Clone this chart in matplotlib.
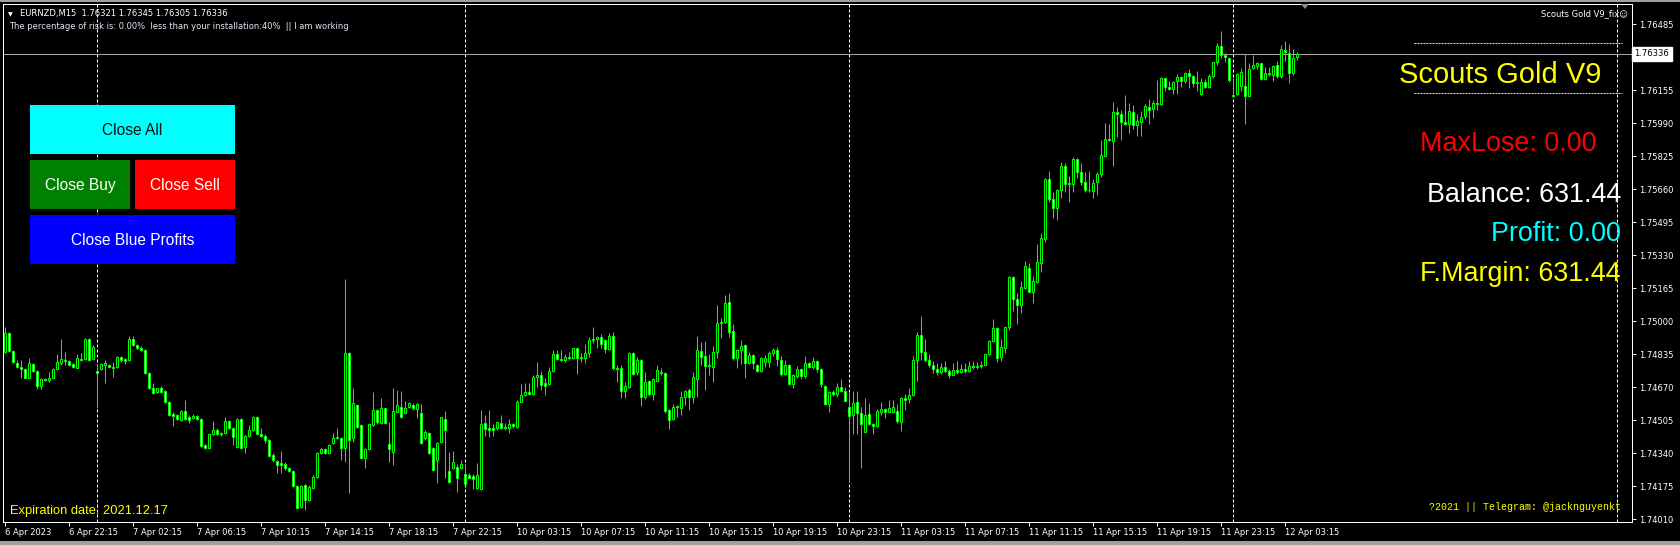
import matplotlib
matplotlib.use("Agg")
import matplotlib.pyplot as plt
import matplotlib.transforms as mtransforms
from matplotlib.patches import Rectangle, Polygon
from matplotlib.lines import Line2D

plt.rcParams['lines.scale_dashes'] = False

# ---------------- data (EURNZD M15 candles) ----------------
OPEN = [
    1.74848, 1.74939, 1.74851, 1.74789, 1.74773, 1.74759, 1.74718, 1.74784, 1.74751, 1.74678,
    1.74711, 1.74706, 1.74718, 1.74759, 1.74789, 1.74806, 1.74801, 1.74784, 1.74768, 1.74811,
    1.74811, 1.74911, 1.74811, 1.74751, 1.74761, 1.74781, 1.74781, 1.74773, 1.74773, 1.74823,
    1.74809, 1.74806, 1.74911, 1.74881, 1.74868, 1.74856, 1.74743, 1.74664, 1.74644, 1.74664,
    1.74651, 1.74598, 1.74534, 1.74531, 1.74506, 1.74551, 1.74523, 1.74514, 1.74526, 1.74511,
    1.74381, 1.74364, 1.74434, 1.74456, 1.74443, 1.74439, 1.74501, 1.74464, 1.74373, 1.74509,
    1.74373, 1.74426, 1.74456, 1.74521, 1.74434, 1.74428, 1.74406, 1.74331, 1.74301, 1.74289,
    1.74284, 1.74264, 1.74251, 1.74178, 1.74073, 1.74181, 1.74106, 1.74168, 1.74221, 1.74339,
    1.74361, 1.74339, 1.74389, 1.74414, 1.74418, 1.74364, 1.74839, 1.74414, 1.74581, 1.74481,
    1.74318, 1.74361, 1.74481, 1.74556, 1.74489, 1.74564, 1.74384, 1.74348, 1.74548, 1.74573,
    1.74539, 1.74573, 1.74581, 1.74561, 1.74539, 1.74414, 1.74439, 1.74364, 1.74306, 1.74398,
    1.74511, 1.74251, 1.74264, 1.74273, 1.74264, 1.74234, 1.74231, 1.74228, 1.74168, 1.74161,
    1.74489, 1.74464, 1.74464, 1.74464, 1.74489, 1.74473, 1.74468, 1.74486, 1.74473, 1.74598,
    1.74631, 1.74648, 1.74634, 1.74723, 1.74731, 1.74689, 1.74684, 1.74751, 1.74834, 1.74811,
    1.74806, 1.74823, 1.74818, 1.74864, 1.74814, 1.74814, 1.74839, 1.74906, 1.74909, 1.74921,
    1.74906, 1.74861, 1.74926, 1.74768, 1.74764, 1.74653, 1.74671, 1.74839, 1.74744, 1.74804,
    1.74623, 1.74701, 1.74634, 1.74701, 1.74748, 1.74739, 1.74556, 1.74509, 1.74571, 1.74568,
    1.74619, 1.74656, 1.74619, 1.74709, 1.74849, 1.74826, 1.74778, 1.74773, 1.74844, 1.74989,
    1.74994, 1.75094, 1.74951, 1.74814, 1.74856, 1.74879, 1.74789, 1.74831, 1.74781, 1.74751,
    1.74794, 1.74794, 1.74839, 1.74856, 1.74806, 1.74738, 1.74781, 1.74684, 1.74728, 1.74759,
    1.74728, 1.74789, 1.74773, 1.74799, 1.74759, 1.74676, 1.74584, 1.74644, 1.74634, 1.74669,
    1.74653, 1.74573, 1.74531, 1.74594, 1.74539, 1.74448, 1.74534, 1.74484, 1.74478, 1.74548,
    1.74561, 1.74548, 1.74548, 1.74551, 1.74498, 1.74614, 1.74609, 1.74631, 1.74806, 1.74931,
    1.74848, 1.74806, 1.74781, 1.74760, 1.74745, 1.74770, 1.74750, 1.74730, 1.74755, 1.74745,
    1.74760, 1.74750, 1.74775, 1.74770, 1.74775, 1.74781, 1.74834, 1.74901, 1.74964, 1.74823,
    1.74864, 1.74969, 1.75223, 1.75111, 1.75081, 1.75164, 1.75268, 1.75148, 1.75198, 1.75289,
    1.75411, 1.75709, 1.75611, 1.75568, 1.75658, 1.75774, 1.75684, 1.75686, 1.75811, 1.75744,
    1.75694, 1.75654, 1.75653, 1.75694, 1.75734, 1.75828, 1.75909, 1.75903, 1.76044, 1.76034,
    1.75998, 1.75988, 1.76044, 1.75981, 1.75998, 1.76028, 1.76073, 1.76059, 1.76089, 1.76084,
    1.76214, 1.76173, 1.76159, 1.76201, 1.76223, 1.76201, 1.76243, 1.76228, 1.76189, 1.76134,
    1.76194, 1.76173, 1.76228, 1.76294, 1.76376, 1.76331, 1.76314, 1.76131, 1.76134, 1.76178,
    1.76176, 1.76128, 1.76264, 1.76278, 1.76289, 1.76209, 1.76243, 1.76231, 1.76281, 1.76228,
    1.76356, 1.76343, 1.76243, 1.76321,
]
HIGH = [
    1.74973, 1.74948, 1.74856, 1.74806, 1.74806, 1.74764, 1.74814, 1.74789, 1.74756, 1.74718,
    1.74718, 1.74744, 1.74764, 1.74834, 1.74911, 1.74844, 1.74806, 1.74789, 1.74834, 1.74839,
    1.74914, 1.74918, 1.74881, 1.74784, 1.74789, 1.74806, 1.74784, 1.74798, 1.74828, 1.74828,
    1.74814, 1.74926, 1.74926, 1.74884, 1.74876, 1.74859, 1.74744, 1.74689, 1.74668, 1.74678,
    1.74654, 1.74601, 1.74548, 1.74534, 1.74554, 1.74606, 1.74531, 1.74534, 1.74531, 1.74514,
    1.74384, 1.74439, 1.74501, 1.74464, 1.74448, 1.74523, 1.74506, 1.74468, 1.74514, 1.74514,
    1.74431, 1.74481, 1.74528, 1.74526, 1.74464, 1.74434, 1.74411, 1.74339, 1.74306, 1.74351,
    1.74298, 1.74273, 1.74256, 1.74181, 1.74181, 1.74184, 1.74181, 1.74231, 1.74348, 1.74368,
    1.74368, 1.74384, 1.74439, 1.74464, 1.74423, 1.75211, 1.74844, 1.74668, 1.74584, 1.74484,
    1.74364, 1.74489, 1.74644, 1.74561, 1.74614, 1.74568, 1.74498, 1.74664, 1.74656, 1.74651,
    1.74601, 1.74598, 1.74589, 1.74589, 1.74584, 1.74456, 1.74444, 1.74373, 1.74398, 1.74523,
    1.74551, 1.74348, 1.74351, 1.74284, 1.74306, 1.74284, 1.74239, 1.74234, 1.74289, 1.74556,
    1.74531, 1.74556, 1.74484, 1.74498, 1.74531, 1.74489, 1.74511, 1.74489, 1.74606, 1.74684,
    1.74689, 1.74689, 1.74731, 1.74798, 1.74751, 1.74714, 1.74773, 1.74856, 1.74856, 1.74856,
    1.74834, 1.74844, 1.74868, 1.74868, 1.74839, 1.74884, 1.74923, 1.74973, 1.74926, 1.74934,
    1.74911, 1.74939, 1.74944, 1.74781, 1.74781, 1.74694, 1.74844, 1.74848, 1.74823, 1.74811,
    1.74748, 1.74706, 1.74714, 1.74781, 1.74768, 1.74744, 1.74561, 1.74584, 1.74581, 1.74651,
    1.74656, 1.74668, 1.74744, 1.74926, 1.74894, 1.74901, 1.74836, 1.74876, 1.75081, 1.75018,
    1.75131, 1.75139, 1.74984, 1.74861, 1.74906, 1.74884, 1.74844, 1.74836, 1.74784, 1.74823,
    1.74831, 1.74851, 1.74868, 1.74873, 1.74826, 1.74806, 1.74784, 1.74734, 1.74778, 1.74768,
    1.74826, 1.74794, 1.74823, 1.74804, 1.74764, 1.74681, 1.74651, 1.74656, 1.74689, 1.74711,
    1.74669, 1.74648, 1.74651, 1.74651, 1.74573, 1.74614, 1.74589, 1.74489, 1.74559, 1.74594,
    1.74568, 1.74604, 1.74604, 1.74584, 1.74623, 1.74634, 1.74668, 1.74826, 1.74948, 1.75026,
    1.74911, 1.74836, 1.74800, 1.74790, 1.74790, 1.74800, 1.74760, 1.74790, 1.74800, 1.74785,
    1.74790, 1.74800, 1.74800, 1.74795, 1.74800, 1.74839, 1.74906, 1.75011, 1.74973, 1.74911,
    1.74973, 1.75228, 1.75228, 1.75139, 1.75201, 1.75301, 1.75289, 1.75228, 1.75384, 1.75439,
    1.75714, 1.75751, 1.75644, 1.75659, 1.75798, 1.75789, 1.75726, 1.75821, 1.75814, 1.75789,
    1.75744, 1.75751, 1.75711, 1.75748, 1.75906, 1.75989, 1.75986, 1.76094, 1.76069, 1.76056,
    1.76131, 1.76089, 1.76081, 1.76034, 1.76051, 1.76084, 1.76111, 1.76106, 1.76206, 1.76223,
    1.76218, 1.76201, 1.76201, 1.76234, 1.76228, 1.76248, 1.76261, 1.76231, 1.76251, 1.76214,
    1.76211, 1.76234, 1.76298, 1.76389, 1.76451, 1.76339, 1.76318, 1.76218, 1.76239, 1.76268,
    1.76334, 1.76293, 1.76331, 1.76298, 1.76293, 1.76273, 1.76273, 1.76281, 1.76301, 1.76381,
    1.76401, 1.76386, 1.76361, 1.76345,
]
LOW = [
    1.74839, 1.74848, 1.74789, 1.74768, 1.74714, 1.74714, 1.74714, 1.74748, 1.74661, 1.74661,
    1.74701, 1.74694, 1.74714, 1.74756, 1.74781, 1.74781, 1.74776, 1.74768, 1.74764, 1.74801,
    1.74806, 1.74801, 1.74806, 1.74564, 1.74756, 1.74689, 1.74768, 1.74723, 1.74768, 1.74798,
    1.74784, 1.74801, 1.74876, 1.74859, 1.74851, 1.74736, 1.74661, 1.74634, 1.74641, 1.74639,
    1.74591, 1.74528, 1.74478, 1.74504, 1.74501, 1.74508, 1.74489, 1.74511, 1.74508, 1.74373,
    1.74359, 1.74359, 1.74431, 1.74431, 1.74428, 1.74434, 1.74459, 1.74381, 1.74368, 1.74361,
    1.74339, 1.74423, 1.74451, 1.74431, 1.74423, 1.74389, 1.74324, 1.74298, 1.74239, 1.74239,
    1.74256, 1.74244, 1.74173, 1.74064, 1.74068, 1.74056, 1.74101, 1.74164, 1.74214, 1.74334,
    1.74334, 1.74334, 1.74384, 1.74411, 1.74306, 1.74298, 1.74139, 1.74398, 1.74468, 1.74314,
    1.74268, 1.74356, 1.74478, 1.74484, 1.74484, 1.74484, 1.74298, 1.74281, 1.74544, 1.74518,
    1.74534, 1.74568, 1.74556, 1.74514, 1.74384, 1.74406, 1.74334, 1.74251, 1.74189, 1.74389,
    1.74214, 1.74189, 1.74261, 1.74144, 1.74261, 1.74181, 1.74214, 1.74161, 1.74161, 1.74156,
    1.74428, 1.74423, 1.74428, 1.74456, 1.74461, 1.74456, 1.74439, 1.74468, 1.74468, 1.74594,
    1.74628, 1.74631, 1.74631, 1.74673, 1.74656, 1.74631, 1.74681, 1.74748, 1.74806, 1.74801,
    1.74794, 1.74806, 1.74814, 1.74738, 1.74798, 1.74789, 1.74823, 1.74889, 1.74868, 1.74864,
    1.74839, 1.74856, 1.74756, 1.74698, 1.74618, 1.74614, 1.74668, 1.74731, 1.74731, 1.74578,
    1.74611, 1.74628, 1.74604, 1.74698, 1.74731, 1.74539, 1.74461, 1.74506, 1.74523, 1.74531,
    1.74581, 1.74556, 1.74593, 1.74623, 1.74781, 1.74656, 1.74731, 1.74694, 1.74818, 1.74918,
    1.74989, 1.74923, 1.74806, 1.74768, 1.74784, 1.74718, 1.74784, 1.74761, 1.74748, 1.74748,
    1.74771, 1.74773, 1.74828, 1.74778, 1.74728, 1.74731, 1.74681, 1.74664, 1.74714, 1.74711,
    1.74714, 1.74764, 1.74761, 1.74744, 1.74671, 1.74581, 1.74548, 1.74628, 1.74623, 1.74648,
    1.74601, 1.74198, 1.74434, 1.74434, 1.74268, 1.74444, 1.74481, 1.74434, 1.74473, 1.74531,
    1.74518, 1.74544, 1.74544, 1.74489, 1.74451, 1.74556, 1.74589, 1.74628, 1.74701, 1.74806,
    1.74798, 1.74770, 1.74740, 1.74730, 1.74735, 1.74740, 1.74715, 1.74725, 1.74735, 1.74740,
    1.74740, 1.74745, 1.74760, 1.74760, 1.74765, 1.74775, 1.74831, 1.74898, 1.74798, 1.74801,
    1.74839, 1.74956, 1.75051, 1.74988, 1.75039, 1.75161, 1.75144, 1.75093, 1.75189, 1.75244,
    1.75398, 1.75598, 1.75518, 1.75506, 1.75614, 1.75644, 1.75598, 1.75648, 1.75714, 1.75681,
    1.75644, 1.75648, 1.75618, 1.75631, 1.75723, 1.75824, 1.75903, 1.75778, 1.75923, 1.75906,
    1.75981, 1.75943, 1.75961, 1.75928, 1.75928, 1.76011, 1.75986, 1.76018, 1.76056, 1.76081,
    1.76153, 1.76156, 1.76138, 1.76138, 1.76173, 1.76189, 1.76168, 1.76173, 1.76151, 1.76131,
    1.76164, 1.76164, 1.76214, 1.76281, 1.76314, 1.76298, 1.76198, 1.76128, 1.76131, 1.76151,
    1.75988, 1.76123, 1.76261, 1.76261, 1.76206, 1.76206, 1.76228, 1.76203, 1.76218, 1.76214,
    1.76301, 1.76193, 1.76231, 1.76305,
]
CLOSE = [
    1.74939, 1.74851, 1.74794, 1.74773, 1.74759, 1.74718, 1.74789, 1.74751, 1.74678, 1.74711,
    1.74706, 1.74718, 1.74759, 1.74794, 1.74809, 1.74801, 1.74781, 1.74773, 1.74814, 1.74806,
    1.74911, 1.74806, 1.74873, 1.74739, 1.74784, 1.74789, 1.74773, 1.74764, 1.74823, 1.74806,
    1.74803, 1.74911, 1.74881, 1.74864, 1.74856, 1.74739, 1.74664, 1.74643, 1.74664, 1.74648,
    1.74594, 1.74531, 1.74528, 1.74511, 1.74551, 1.74511, 1.74506, 1.74528, 1.74511, 1.74378,
    1.74364, 1.74434, 1.74456, 1.74434, 1.74434, 1.74501, 1.74464, 1.74423, 1.74511, 1.74368,
    1.74428, 1.74456, 1.74521, 1.74434, 1.74428, 1.74406, 1.74328, 1.74306, 1.74281, 1.74281,
    1.74264, 1.74251, 1.74178, 1.74068, 1.74178, 1.74106, 1.74173, 1.74221, 1.74339, 1.74361,
    1.74339, 1.74381, 1.74414, 1.74423, 1.74368, 1.74839, 1.74406, 1.74589, 1.74473, 1.74318,
    1.74361, 1.74484, 1.74556, 1.74498, 1.74564, 1.74489, 1.74361, 1.74551, 1.74581, 1.74523,
    1.74568, 1.74589, 1.74564, 1.74584, 1.74389, 1.74448, 1.74339, 1.74256, 1.74389, 1.74519,
    1.74456, 1.74194, 1.74294, 1.74214, 1.74284, 1.74184, 1.74218, 1.74211, 1.74231, 1.74484,
    1.74459, 1.74456, 1.74456, 1.74494, 1.74464, 1.74468, 1.74484, 1.74478, 1.74598, 1.74631,
    1.74648, 1.74634, 1.74723, 1.74731, 1.74681, 1.74678, 1.74751, 1.74834, 1.74811, 1.74804,
    1.74823, 1.74818, 1.74864, 1.74814, 1.74823, 1.74839, 1.74906, 1.74911, 1.74921, 1.74888,
    1.74859, 1.74926, 1.74768, 1.74763, 1.74653, 1.74676, 1.74839, 1.74736, 1.74806, 1.74623,
    1.74698, 1.74634, 1.74709, 1.74756, 1.74739, 1.74551, 1.74506, 1.74571, 1.74576, 1.74619,
    1.74653, 1.74619, 1.74719, 1.74856, 1.74823, 1.74778, 1.74781, 1.74844, 1.74989, 1.74994,
    1.75089, 1.74948, 1.74814, 1.74856, 1.74876, 1.74789, 1.74831, 1.74789, 1.74751, 1.74814,
    1.74814, 1.74839, 1.74856, 1.74809, 1.74734, 1.74781, 1.74684, 1.74731, 1.74761, 1.74728,
    1.74789, 1.74773, 1.74799, 1.74759, 1.74684, 1.74586, 1.74644, 1.74634, 1.74669, 1.74653,
    1.74603, 1.74528, 1.74589, 1.74539, 1.74484, 1.74531, 1.74486, 1.74478, 1.74551, 1.74561,
    1.74548, 1.74564, 1.74569, 1.74503, 1.74614, 1.74606, 1.74631, 1.74806, 1.74931, 1.74848,
    1.74806, 1.74781, 1.74760, 1.74745, 1.74770, 1.74750, 1.74730, 1.74755, 1.74745, 1.74760,
    1.74750, 1.74775, 1.74770, 1.74775, 1.74781, 1.74834, 1.74901, 1.74964, 1.74818, 1.74869,
    1.74969, 1.75223, 1.75111, 1.75081, 1.75173, 1.75278, 1.75148, 1.75203, 1.75294, 1.75414,
    1.75711, 1.75611, 1.75568, 1.75656, 1.75774, 1.75684, 1.75689, 1.75811, 1.75744, 1.75694,
    1.75654, 1.75656, 1.75689, 1.75736, 1.75831, 1.75909, 1.75906, 1.76044, 1.76034, 1.75998,
    1.75988, 1.76051, 1.75981, 1.76001, 1.76023, 1.76078, 1.76056, 1.76089, 1.76084, 1.76218,
    1.76173, 1.76159, 1.76198, 1.76223, 1.76201, 1.76243, 1.76228, 1.76189, 1.76194, 1.76194,
    1.76171, 1.76228, 1.76294, 1.76376, 1.76331, 1.76323, 1.76206, 1.76128, 1.76234, 1.76244,
    1.76128, 1.76259, 1.76281, 1.76293, 1.76209, 1.76243, 1.76234, 1.76276, 1.76228, 1.76361,
    1.76344, 1.76243, 1.76314, 1.76336,
]

TIME_LABELS = ["6 Apr 2023", "6 Apr 22:15", "7 Apr 02:15", "7 Apr 06:15", "7 Apr 10:15",
               "7 Apr 14:15", "7 Apr 18:15", "7 Apr 22:15", "10 Apr 03:15", "10 Apr 07:15",
               "10 Apr 11:15", "10 Apr 15:15", "10 Apr 19:15", "10 Apr 23:15", "11 Apr 03:15",
               "11 Apr 07:15", "11 Apr 11:15", "11 Apr 15:15", "11 Apr 19:15", "11 Apr 23:15",
               "12 Apr 03:15"]
TIME_LABEL_BARS = [0, 16, 32, 48, 64, 80, 96, 112, 128, 144, 160, 176, 192, 208, 224,
                   240, 256, 272, 288, 304, 320]
DAY_START_BARS = [23, 115, 211, 307, 403]
PRICE_TICKS = [1.74010, 1.74175, 1.74340, 1.74505, 1.74670, 1.74835, 1.75000, 1.75165,
               1.75330, 1.75495, 1.75660, 1.75825, 1.75990, 1.76155, 1.76485]

SYMBOL = "EURNZD,M15"
EA_NAME = "Scouts Gold V9"
MAX_LOSE = 0.00
BALANCE = 631.44
PROFIT = 0.00
FREE_MARGIN = 631.44
RISK_PCT = 0.00
RISK_LIMIT = 40

# ---------------- figure ----------------
W, H = 1680, 545
DPI = 100
PX = 72.0 / DPI          # one pixel in points
LIME = '#00ff00'

fig = plt.figure(figsize=(W / DPI, H / DPI), dpi=DPI, facecolor='black')


def fx(px):
    return px / W


def fy(py):
    return 1.0 - py / H


# outer window frame
fig.add_artist(Rectangle((0, fy(2)), 1, fy(0) - fy(2), transform=fig.transFigure,
                         facecolor='#a0a0a0', edgecolor='none', zorder=0))
fig.add_artist(Rectangle((0, 0), 1, fy(541), transform=fig.transFigure,
                         facecolor='#a0a0a0', edgecolor='none', zorder=0))

AX_L, AX_R, AX_T, AX_B = 3, 1632, 4, 522
ax = fig.add_axes([fx(AX_L), fy(AX_B), fx(AX_R) - fx(AX_L), fy(AX_T) - fy(AX_B)])
ax.set_facecolor('black')

n = len(CLOSE)
xs = list(range(n))
ax.set_xlim(-0.5, 406.75)
ax.set_ylim(1.73996, 1.76586)

# day separators
for b in DAY_START_BARS:
    ax.axvline(b, color='white', lw=PX, linestyle=(0, (3 * PX, 2 * PX)), zorder=1)

# current price line
ax.axhline(CLOSE[-1], color='#a0a8b4', lw=PX, zorder=1)

# candles
lows = [min(l, o, c) for l, o, c in zip(LOW, OPEN, CLOSE)]
highs = [max(h, o, c) for h, o, c in zip(HIGH, OPEN, CLOSE)]
ax.vlines(xs, lows, highs, colors=LIME, linewidth=PX, zorder=3)
bottoms = [min(o, c) for o, c in zip(OPEN, CLOSE)]
heights = [abs(c - o) for o, c in zip(OPEN, CLOSE)]
fills = ['black' if c >= o else 'white' for o, c in zip(OPEN, CLOSE)]
ax.bar(xs, heights, bottom=bottoms, width=0.5, color=fills, edgecolor=LIME,
       linewidth=PX, zorder=4)

# frame / axes
for s in ax.spines.values():
    s.set_color('white')
    s.set_linewidth(PX)

ax.set_xticks(TIME_LABEL_BARS)
ax.set_xticklabels(TIME_LABELS, ha='left', fontsize=6, color='white', family='DejaVu Sans')
ax.tick_params(axis='x', direction='out', length=4 * PX, width=PX, colors='white', pad=1.5)
ax.yaxis.tick_right()
ax.set_yticks(PRICE_TICKS)
ax.set_yticklabels([f"{p:.5f}" for p in PRICE_TICKS], fontsize=6, color='white',
                   family='DejaVu Sans')
ax.tick_params(axis='y', direction='out', length=4 * PX, width=PX, colors='white', pad=2)

# current price label on the axis
trans = mtransforms.blended_transform_factory(ax.transAxes, ax.transData)
ax.text(1.0015, CLOSE[-1], f"{CLOSE[-1]:.5f}", transform=trans, ha='left', va='center',
        fontsize=6, color='black', family='DejaVu Sans', clip_on=False, zorder=10,
        bbox=dict(boxstyle='square,pad=0.3', fc='white', ec='white'))

# shift marker triangle
fig.add_artist(Polygon([[fx(1301), fy(4)], [fx(1309), fy(4)], [fx(1305), fy(9)]],
                       closed=True, transform=fig.transFigure, facecolor='#8090a0',
                       edgecolor='none', zorder=5))

# ---------------- texts ----------------
fig.text(fx(8), fy(16), "\u25BC", fontsize=4.5, color='white', family='DejaVu Sans',
         ha='left', va='baseline')
fig.text(fx(20), fy(16), f"{SYMBOL}  {OPEN[-1]:.5f} {HIGH[-1]:.5f} {LOW[-1]:.5f} {CLOSE[-1]:.5f}",
         fontsize=6, color='white', family='DejaVu Sans', ha='left', va='baseline')
fig.text(fx(9), fy(29),
         f"The percentage of risk is: {RISK_PCT:.2f}%  less than your installation:{RISK_LIMIT}%  || I am working",
         fontsize=6, color='#dce6f5', family='DejaVu Sans', ha='left', va='baseline')
fig.text(fx(1628), fy(16), f"{EA_NAME}_fix\u263A", fontsize=6, color='white',
         family='DejaVu Sans', ha='right', va='baseline')

# yellow dashed lines around EA name
for yy in (43, 93):
    fig.add_artist(Line2D([fx(1414), fx(1622)], [fy(yy), fy(yy)], transform=fig.transFigure,
                          color='#ffff00', lw=PX, linestyle=(0, (2 * PX, 1 * PX)), zorder=6))

fig.text(fx(1601), fy(83), EA_NAME, fontsize=21, color='#ffff00', family='Liberation Sans',
         ha='right', va='baseline')
fig.text(fx(1597), fy(151), f"MaxLose: {MAX_LOSE:.2f}", fontsize=19.4, color='#ff0000',
         family='Liberation Sans', ha='right', va='baseline')
fig.text(fx(1621), fy(202), f"Balance: {BALANCE:.2f}", fontsize=19.4, color='white',
         family='Liberation Sans', ha='right', va='baseline')
fig.text(fx(1621), fy(241), f"Profit: {PROFIT:.2f}", fontsize=19.4, color='#00ffff',
         family='Liberation Sans', ha='right', va='baseline')
fig.text(fx(1621), fy(281), f"F.Margin: {FREE_MARGIN:.2f}", fontsize=19.4, color='#ffff00',
         family='Liberation Sans', ha='right', va='baseline')

fig.text(fx(10), fy(514), "Expiration date: 2021.12.17", fontsize=9.3, color='#ffff00',
         family='Liberation Sans', ha='left', va='baseline')
fig.text(fx(1429), fy(510), "?2021 || Telegram: @jacknguyenkt", fontsize=7.2, color='#ffff00',
         family='Liberation Mono', ha='left', va='baseline')

# ---------------- buttons ----------------
BUTTONS = [
    ("Close All", 30, 105, 235, 154, '#00ffff', '#101010'),
    ("Close Buy", 30, 160, 130, 209, '#008000', 'white'),
    ("Close Sell", 135, 160, 235, 209, '#ff0000', 'white'),
    ("Close Blue Profits", 30, 215, 235, 264, '#0000ff', 'white'),
]
for label, x0, y0, x1, y1, bg, fg in BUTTONS:
    fig.add_artist(Rectangle((fx(x0), fy(y1)), fx(x1) - fx(x0), fy(y0) - fy(y1),
                             transform=fig.transFigure, facecolor=bg, edgecolor='none',
                             zorder=8))
    fig.text(fx((x0 + x1) / 2), fy((y0 + y1) / 2 + 1), label, fontsize=11.2, color=fg,
             family='Liberation Sans', ha='center', va='center', zorder=9)

fig.savefig("out.png", dpi=DPI, facecolor='black')
